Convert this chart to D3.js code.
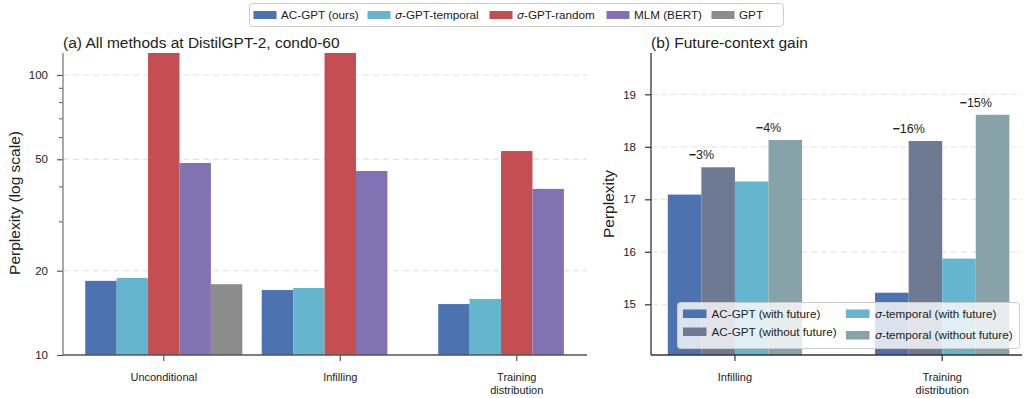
<!DOCTYPE html>
<html>
<head>
<meta charset="utf-8">
<script src="https://cdn.jsdelivr.net/npm/d3@7"></script>
<style>
  html, body { margin: 0; padding: 0; background: #fff; }
  svg { display: block; }
  text { font-family: "Liberation Sans", Arial, Helvetica, sans-serif; fill: #222; }
</style>
</head>
<body>
<svg id="chart" width="1025" height="398"></svg>
<script>
// ---------------- DATA ----------------
const leftCategories = ["Unconditional", "Infilling", "Training\ndistribution"];
const leftSeries = ["AC-GPT (ours)", "σ-GPT-temporal", "σ-GPT-random", "MLM (BERT)", "GPT"];
const acgptValues    = [18.4, 17.06, 15.2];
const sigmaTempValues = [18.85, 17.35, 15.85];
const sigmaRandValues = [150, 148, 53.5];
const mlmValues      = [48.5, 45.4, 39.2];
const gptValues      = [17.9, null, null];
const leftTicksMajor = [10, 20, 50, 100];
const leftTicksMinor = [30, 40, 60, 70, 80, 90];

const rightCategories = ["Infilling", "Training\ndistribution"];
const rightSeries = ["AC-GPT (with future)", "AC-GPT (without future)", "σ-temporal (with future)", "σ-temporal (without future)"];
const acWith      = [17.09, 15.22];
const acWithout   = [17.61, 18.11];
const sigWith     = [17.34, 15.87];
const sigWithout  = [18.13, 18.61];
const gainAC      = ["−3%", "−16%"];
const gainSig     = ["−4%", "−15%"];
const rightTicks  = [15, 16, 17, 18, 19];

const leftColors = ["#4C72B0", "#64B5CD", "#C44E52", "#8172B3", "#8C8C8C"];
const rightColors = ["#4C72B0", "#6E7A92", "#64B5CD", "#87A3A9"];

// ---------------- SETUP ----------------
const svg = d3.select("#chart");
const plotTop = 53, plotBottom = 355;

function labelWithSigma(textSel, s) {
  if (s.startsWith("σ")) {
    textSel.append("tspan").attr("font-family", "'DejaVu Sans', sans-serif").attr("font-style", "italic")
      .attr("font-size", "11px").text("σ");
    textSel.append("tspan").text(s.slice(1));
  } else {
    textSel.text(s);
  }
}
function gainLabel(textSel, s) {
  textSel.append("tspan").attr("font-weight", "bold").text(s.slice(0, 1));
  textSel.append("tspan").text(s.slice(1));
}

// ========== LEFT PANEL ==========
const L = { left: 63, right: 587 };
const xL = d3.scaleLinear().domain([-0.571, 2.398]).range([L.left, L.right]);
const yL = d3.scaleLog().domain([10, 119.8]).range([plotBottom, plotTop]);
const bwL = 0.178;

svg.append("defs").append("clipPath").attr("id", "clipL")
  .append("rect").attr("x", L.left).attr("y", plotTop).attr("width", L.right - L.left).attr("height", plotBottom - plotTop);

const gL = svg.append("g");
gL.selectAll(".grid").data([20, 50, 100]).join("line")
  .attr("x1", L.left).attr("x2", L.right)
  .attr("y1", d => yL(d)).attr("y2", d => yL(d))
  .attr("stroke", "#e6e6e6").attr("stroke-width", 1.3).attr("stroke-dasharray", "6,4");

const leftData = [acgptValues, sigmaTempValues, sigmaRandValues, mlmValues, gptValues];
const barsL = gL.append("g").attr("clip-path", "url(#clipL)");
leftData.forEach((vals, j) => {
  vals.forEach((v, i) => {
    if (v == null) return;
    const c = i + (j - 2) * bwL;
    barsL.append("rect")
      .attr("x", xL(c - bwL / 2))
      .attr("width", xL(c + bwL / 2) - xL(c - bwL / 2))
      .attr("y", yL(v))
      .attr("height", plotBottom - yL(v))
      .attr("fill", leftColors[j]);
  });
});

const axLeftL = d3.axisLeft(yL).tickValues(leftTicksMajor).tickFormat(d3.format("d")).tickSize(6).tickPadding(9);
const gAxL = gL.append("g").attr("transform", `translate(${L.left},0)`).call(axLeftL);
gAxL.select(".domain").remove();
gAxL.selectAll(".tick line").attr("stroke", "#555").attr("stroke-width", 1.2);
gAxL.selectAll(".tick text").attr("font-size", "11.5px").attr("fill", "#333")
  .attr("font-family", "'Liberation Sans', Arial, sans-serif");
const axMinorL = d3.axisLeft(yL).tickValues(leftTicksMinor).tickFormat("").tickSize(4);
const gAxmL = gL.append("g").attr("transform", `translate(${L.left},0)`).call(axMinorL);
gAxmL.select(".domain").remove();
gAxmL.selectAll(".tick line").attr("stroke", "#555").attr("stroke-width", 1);
gL.append("line").attr("x1", L.left).attr("x2", L.left).attr("y1", plotTop).attr("y2", plotBottom)
  .attr("stroke", "#8c8c8c").attr("stroke-width", 1.5);
gL.append("line").attr("x1", L.left).attr("x2", L.right).attr("y1", plotBottom).attr("y2", plotBottom)
  .attr("stroke", "#555").attr("stroke-width", 1.3);

leftCategories.forEach((c, i) => {
  gL.append("line").attr("x1", xL(i)).attr("x2", xL(i)).attr("y1", plotBottom).attr("y2", plotBottom + 6)
    .attr("stroke", "#555").attr("stroke-width", 1.2);
  const lines = c.split("\n");
  const t = gL.append("text").attr("x", xL(i)).attr("y", 381).attr("text-anchor", "middle")
    .attr("font-size", "11px").attr("fill", "#333");
  lines.forEach((ln, k) => t.append("tspan").attr("x", xL(i)).attr("dy", k === 0 ? 0 : 13).text(ln));
});

gL.append("text").attr("x", L.left).attr("y", 48).attr("font-size", "15.5px").attr("fill", "#222")
  .text("(a) All methods at DistilGPT-2, cond0-60");
gL.append("text").attr("transform", `translate(20,203) rotate(-90)`).attr("text-anchor", "middle")
  .attr("font-size", "15.5px").attr("fill", "#222").text("Perplexity (log scale)");

// ========== RIGHT PANEL ==========
const R = { left: 651, right: 1022 };
const xR = d3.scaleLinear().domain([-0.405, 1.385]).range([R.left, R.right]);
const yR = d3.scaleLinear().domain([14.034, 19.787]).range([plotBottom, plotTop]);
const bwR = 0.162;
const gR = svg.append("g");

gR.selectAll(".grid").data(rightTicks).join("line")
  .attr("x1", R.left).attr("x2", R.right)
  .attr("y1", d => yR(d)).attr("y2", d => yR(d))
  .attr("stroke", "#e6e6e6").attr("stroke-width", 1.3).attr("stroke-dasharray", "6,4");

const rightData = [acWith, acWithout, sigWith, sigWithout];
rightData.forEach((vals, j) => {
  vals.forEach((v, i) => {
    const c = i + (j - 1.5) * bwR;
    gR.append("rect")
      .attr("x", xR(c - bwR / 2))
      .attr("width", xR(c + bwR / 2) - xR(c - bwR / 2))
      .attr("y", yR(v))
      .attr("height", plotBottom - yR(v))
      .attr("fill", rightColors[j]);
  });
});

rightCategories.forEach((c, i) => {
  const cAC = i - bwR;
  const cSig = i + bwR;
  const t1 = gR.append("text").attr("x", xR(cAC)).attr("y", yR(Math.max(acWith[i], acWithout[i])) - 8)
    .attr("text-anchor", "middle").attr("font-family", "'DejaVu Sans', sans-serif")
    .attr("font-size", "12.5px").attr("fill", "#1a1a1a");
  gainLabel(t1, gainAC[i]);
  const t2 = gR.append("text").attr("x", xR(cSig)).attr("y", yR(Math.max(sigWith[i], sigWithout[i])) - 8)
    .attr("text-anchor", "middle").attr("font-family", "'DejaVu Sans', sans-serif")
    .attr("font-size", "12.5px").attr("fill", "#1a1a1a");
  gainLabel(t2, gainSig[i]);
});

const axR = d3.axisLeft(yR).tickValues(rightTicks).tickFormat(d3.format("d")).tickSize(6).tickPadding(9);
const gAxR = gR.append("g").attr("transform", `translate(${R.left},0)`).call(axR);
gAxR.select(".domain").remove();
gAxR.selectAll(".tick line").attr("stroke", "#333").attr("stroke-width", 1.2);
gAxR.selectAll(".tick text").attr("font-size", "11.5px").attr("fill", "#333")
  .attr("font-family", "'Liberation Sans', Arial, sans-serif");
gR.append("line").attr("x1", R.left).attr("x2", R.left).attr("y1", plotTop).attr("y2", plotBottom)
  .attr("stroke", "#333").attr("stroke-width", 1.3);
gR.append("line").attr("x1", R.left).attr("x2", R.right).attr("y1", plotBottom).attr("y2", plotBottom)
  .attr("stroke", "#333").attr("stroke-width", 1.3);

rightCategories.forEach((c, i) => {
  gR.append("line").attr("x1", xR(i)).attr("x2", xR(i)).attr("y1", plotBottom).attr("y2", plotBottom + 6)
    .attr("stroke", "#333").attr("stroke-width", 1.2);
  const lines = c.split("\n");
  const t = gR.append("text").attr("x", xR(i)).attr("y", 381).attr("text-anchor", "middle")
    .attr("font-size", "11px").attr("fill", "#333");
  lines.forEach((ln, k) => t.append("tspan").attr("x", xR(i)).attr("dy", k === 0 ? 0 : 13).text(ln));
});

gR.append("text").attr("x", R.left).attr("y", 48).attr("font-size", "15.5px").attr("fill", "#222")
  .text("(b) Future-context gain");
gR.append("text").attr("transform", `translate(614,204) rotate(-90)`).attr("text-anchor", "middle")
  .attr("font-size", "15.5px").attr("fill", "#222").text("Perplexity");

// right legend
const lgR = svg.append("g");
lgR.append("rect").attr("x", 677.5).attr("y", 302.5).attr("width", 342).attr("height", 46)
  .attr("rx", 3).attr("fill", "rgba(255,255,255,0.8)").attr("stroke", "#cccccc").attr("stroke-width", 1);
const rlPos = [
  { px: 683, py: 313.5, tx: 711.5 },
  { px: 683, py: 331.5, tx: 711.5 },
  { px: 846, py: 313.5, tx: 875 },
  { px: 846, py: 335, tx: 875 }
];
rightSeries.forEach((s, j) => {
  const p = rlPos[j];
  lgR.append("rect").attr("x", p.px).attr("y", p.py - 4).attr("width", 23.5).attr("height", 8.5)
    .attr("fill", rightColors[j]);
  const t = lgR.append("text").attr("x", p.tx).attr("y", p.py + 4.2).attr("font-size", "11.7px").attr("fill", "#222");
  labelWithSigma(t, s);
});

// top legend
const lgT = svg.append("g");
lgT.append("rect").attr("x", 249.5).attr("y", 3.5).attr("width", 534).attr("height", 23)
  .attr("rx", 3).attr("fill", "#fff").attr("stroke", "#cccccc").attr("stroke-width", 1);
const tlPatchX = [253.5, 367.5, 489.5, 606.5, 711.5];
leftSeries.forEach((s, j) => {
  lgT.append("rect").attr("x", tlPatchX[j]).attr("y", 11).attr("width", 23).attr("height", 8)
    .attr("fill", leftColors[j]);
  const t = lgT.append("text").attr("x", tlPatchX[j] + 27.5).attr("y", 19.2).attr("font-size", "11.7px").attr("fill", "#222");
  labelWithSigma(t, s);
});
</script>
</body>
</html>
